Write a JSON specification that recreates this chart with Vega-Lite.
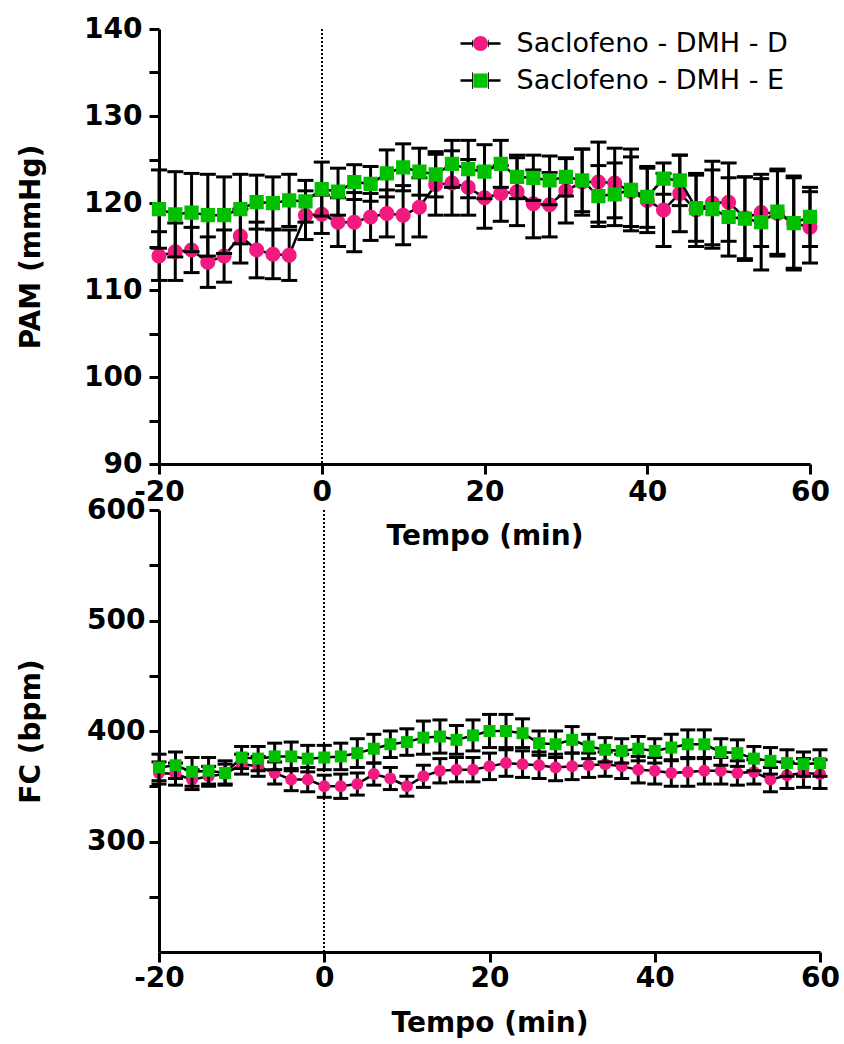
{
  "$schema": "https://vega.github.io/schema/vega-lite/v6.json",
  "padding": {"left": 17, "top": 15, "right": 5, "bottom": 5},
  "background": "white",
  "config": {
    "font": "DejaVu Sans",
    "view": {"stroke": null},
    "tick": {"opacity": 1},
    "rule": {"opacity": 1},
    "axis": {
      "grid": false,
      "domainColor": "black", "domainWidth": 3,
      "tickColor": "black", "tickWidth": 3, "tickSize": 10,
      "labelFont": "DejaVu Sans", "labelFontWeight": "bold", "labelFontSize": 28, "labelColor": "black",
      "titleFont": "DejaVu Sans", "titleFontWeight": "bold", "titleFontSize": 28, "titleColor": "black",
      "labelFlush": false, "labelOverlap": false
    }
  },
  "datasets": {
    "pam": [
      {"t":-20,"s":"D","v":113.9,"e":2.8},{"t":-18,"s":"D","v":114.4,"e":3.3},{"t":-16,"s":"D","v":114.6,"e":2.6},{"t":-14,"s":"D","v":113.2,"e":2.9},{"t":-12,"s":"D","v":113.9,"e":3.0},{"t":-10,"s":"D","v":116.2,"e":3.1},{"t":-8,"s":"D","v":114.6,"e":3.2},{"t":-6,"s":"D","v":114.1,"e":2.8},{"t":-4,"s":"D","v":114.0,"e":2.9},{"t":-2,"s":"D","v":118.6,"e":2.8},
      {"t":0,"s":"D","v":118.7,"e":2.2},{"t":2,"s":"D","v":117.8,"e":2.8},{"t":4,"s":"D","v":117.8,"e":3.4},{"t":6,"s":"D","v":118.4,"e":2.7},{"t":8,"s":"D","v":118.8,"e":2.7},{"t":10,"s":"D","v":118.6,"e":3.4},{"t":12,"s":"D","v":119.5,"e":3.4},{"t":14,"s":"D","v":122.1,"e":3.5},{"t":16,"s":"D","v":122.3,"e":3.7},{"t":18,"s":"D","v":121.8,"e":3.2},
      {"t":20,"s":"D","v":120.6,"e":3.5},{"t":22,"s":"D","v":121.1,"e":3.2},{"t":24,"s":"D","v":121.3,"e":3.9},{"t":26,"s":"D","v":119.9,"e":3.9},{"t":28,"s":"D","v":119.8,"e":3.7},{"t":30,"s":"D","v":121.4,"e":3.7},{"t":32,"s":"D","v":122.4,"e":3.8},{"t":34,"s":"D","v":122.4,"e":4.6},{"t":36,"s":"D","v":122.3,"e":4.0},{"t":38,"s":"D","v":121.3,"e":4.0},
      {"t":40,"s":"D","v":120.3,"e":3.7},{"t":42,"s":"D","v":119.2,"e":4.2},{"t":44,"s":"D","v":121.1,"e":4.4},{"t":46,"s":"D","v":119.2,"e":4.2},{"t":48,"s":"D","v":120.0,"e":4.8},{"t":50,"s":"D","v":120.1,"e":4.5},{"t":52,"s":"D","v":118.3,"e":4.7},{"t":54,"s":"D","v":118.9,"e":3.9},{"t":56,"s":"D","v":118.8,"e":4.9},{"t":58,"s":"D","v":117.7,"e":5.2},{"t":60,"s":"D","v":117.2,"e":4.1},
      {"t":-20,"s":"E","v":119.3,"e":4.5},{"t":-18,"s":"E","v":118.7,"e":4.9},{"t":-16,"s":"E","v":118.9,"e":4.5},{"t":-14,"s":"E","v":118.6,"e":4.7},{"t":-12,"s":"E","v":118.6,"e":4.4},{"t":-10,"s":"E","v":119.3,"e":4.0},{"t":-8,"s":"E","v":120.1,"e":3.1},{"t":-6,"s":"E","v":120.0,"e":3.0},{"t":-4,"s":"E","v":120.3,"e":3.0},{"t":-2,"s":"E","v":120.2,"e":2.4},
      {"t":0,"s":"E","v":121.6,"e":3.1},{"t":2,"s":"E","v":121.3,"e":2.7},{"t":4,"s":"E","v":122.4,"e":2.0},{"t":6,"s":"E","v":122.2,"e":2.0},{"t":8,"s":"E","v":123.4,"e":2.7},{"t":10,"s":"E","v":124.1,"e":2.7},{"t":12,"s":"E","v":123.6,"e":2.7},{"t":14,"s":"E","v":123.3,"e":2.6},{"t":16,"s":"E","v":124.5,"e":2.7},{"t":18,"s":"E","v":123.9,"e":3.3},
      {"t":20,"s":"E","v":123.6,"e":3.1},{"t":22,"s":"E","v":124.5,"e":2.7},{"t":24,"s":"E","v":123.0,"e":2.5},{"t":26,"s":"E","v":122.9,"e":2.6},{"t":28,"s":"E","v":122.6,"e":2.8},{"t":30,"s":"E","v":123.0,"e":2.2},{"t":32,"s":"E","v":122.6,"e":3.6},{"t":34,"s":"E","v":120.8,"e":3.5},{"t":36,"s":"E","v":121.0,"e":3.6},{"t":38,"s":"E","v":121.5,"e":4.7},
      {"t":40,"s":"E","v":120.7,"e":3.5},{"t":42,"s":"E","v":122.8,"e":1.8},{"t":44,"s":"E","v":122.6,"e":2.9},{"t":46,"s":"E","v":119.4,"e":3.8},{"t":48,"s":"E","v":119.3,"e":4.5},{"t":50,"s":"E","v":118.4,"e":4.5},{"t":52,"s":"E","v":118.2,"e":4.8},{"t":54,"s":"E","v":117.8,"e":5.5},{"t":56,"s":"E","v":119.0,"e":4.9},{"t":58,"s":"E","v":117.7,"e":5.4},{"t":60,"s":"E","v":118.4,"e":3.4}
    ],
    "fc": [
      {"t":-20,"s":"D","v":362,"e":10},{"t":-18,"s":"D","v":361,"e":10},{"t":-16,"s":"D","v":356,"e":9},{"t":-14,"s":"D","v":359,"e":9},{"t":-12,"s":"D","v":361,"e":9},{"t":-10,"s":"D","v":370,"e":9},{"t":-8,"s":"D","v":368,"e":9},{"t":-6,"s":"D","v":362,"e":10},{"t":-4,"s":"D","v":356,"e":10},{"t":-2,"s":"D","v":356,"e":11},
      {"t":0,"s":"D","v":350,"e":10},{"t":2,"s":"D","v":350,"e":11},{"t":4,"s":"D","v":352,"e":10},{"t":6,"s":"D","v":361,"e":10},{"t":8,"s":"D","v":357,"e":10},{"t":10,"s":"D","v":350,"e":9},{"t":12,"s":"D","v":359,"e":10},{"t":14,"s":"D","v":364,"e":11},{"t":16,"s":"D","v":365,"e":11},{"t":18,"s":"D","v":365,"e":11},
      {"t":20,"s":"D","v":368,"e":12},{"t":22,"s":"D","v":371,"e":12},{"t":24,"s":"D","v":370,"e":12},{"t":26,"s":"D","v":369,"e":12},{"t":28,"s":"D","v":367,"e":12},{"t":30,"s":"D","v":368,"e":12},{"t":32,"s":"D","v":369,"e":11},{"t":34,"s":"D","v":370,"e":11},{"t":36,"s":"D","v":368,"e":11},{"t":38,"s":"D","v":365,"e":12},
      {"t":40,"s":"D","v":364,"e":12},{"t":42,"s":"D","v":362,"e":12},{"t":44,"s":"D","v":363,"e":13},{"t":46,"s":"D","v":364,"e":12},{"t":48,"s":"D","v":364,"e":12},{"t":50,"s":"D","v":362,"e":11},{"t":52,"s":"D","v":363,"e":11},{"t":54,"s":"D","v":356,"e":11},{"t":56,"s":"D","v":360,"e":12},{"t":58,"s":"D","v":362,"e":13},{"t":60,"s":"D","v":361,"e":13},
      {"t":-20,"s":"E","v":367,"e":12},{"t":-18,"s":"E","v":369,"e":12},{"t":-16,"s":"E","v":363,"e":13},{"t":-14,"s":"E","v":364,"e":12},{"t":-12,"s":"E","v":362,"e":11},{"t":-10,"s":"E","v":376,"e":10},{"t":-8,"s":"E","v":375,"e":11},{"t":-6,"s":"E","v":377,"e":12},{"t":-4,"s":"E","v":377,"e":13},{"t":-2,"s":"E","v":375,"e":12},
      {"t":0,"s":"E","v":376,"e":11},{"t":2,"s":"E","v":377,"e":12},{"t":4,"s":"E","v":380,"e":13},{"t":6,"s":"E","v":384,"e":13},{"t":8,"s":"E","v":388,"e":12},{"t":10,"s":"E","v":390,"e":12},{"t":12,"s":"E","v":394,"e":15},{"t":14,"s":"E","v":395,"e":15},{"t":16,"s":"E","v":392,"e":13},{"t":18,"s":"E","v":396,"e":14},
      {"t":20,"s":"E","v":400,"e":15},{"t":22,"s":"E","v":400,"e":15},{"t":24,"s":"E","v":398,"e":13},{"t":26,"s":"E","v":389,"e":11},{"t":28,"s":"E","v":388,"e":12},{"t":30,"s":"E","v":392,"e":12},{"t":32,"s":"E","v":386,"e":11},{"t":34,"s":"E","v":383,"e":11},{"t":36,"s":"E","v":382,"e":11},{"t":38,"s":"E","v":384,"e":11},
      {"t":40,"s":"E","v":382,"e":11},{"t":42,"s":"E","v":385,"e":12},{"t":44,"s":"E","v":388,"e":13},{"t":46,"s":"E","v":388,"e":13},{"t":48,"s":"E","v":381,"e":12},{"t":50,"s":"E","v":380,"e":12},{"t":52,"s":"E","v":375,"e":11},{"t":54,"s":"E","v":373,"e":12},{"t":56,"s":"E","v":371,"e":12},{"t":58,"s":"E","v":370,"e":11},{"t":60,"s":"E","v":371,"e":12}
    ]
  },
  "spacing": 46,
  "bounds": "flush",
  "resolve": {"scale": {"color": "independent", "shape": "independent"}, "legend": {"color": "independent", "shape": "independent"}},
  "vconcat": [
    {
      "width": 651, "height": 435,
      "data": {"name": "pam"},
      "layer": [
        {"mark": {"type": "rule", "strokeDash": [1.5, 2.5], "strokeWidth": 1.3, "color": "black"},
         "encoding": {"x": {"datum": 0, "type": "quantitative"}}},
        {
          "encoding": {
            "x": {"field": "t", "type": "quantitative", "title": "Tempo (min)",
                  "scale": {"domain": [-20, 60], "nice": false, "zero": false},
                  "axis": {"values": [-20, 0, 20, 40, 60], "labelPadding": 4, "titlePadding": 16,
                           "labelExpr": "datum.value < 0 ? '-' + (-datum.value) : '' + datum.value"}},
            "y": {"field": "v", "type": "quantitative", "title": "PAM (mmHg)",
                  "scale": {"domain": [90, 140], "nice": false, "zero": false},
                  "axis": {"values": [90, 95, 100, 105, 110, 115, 120, 125, 130, 135, 140],
                           "labelExpr": "datum.value % 10 === 0 ? datum.label : ''",
                           "labelPadding": 7, "titlePadding": 38,
                           "encode": {"ticks": {"update": {"x2": {"signal": "datum.value % 10 === 0 ? -10 : -6"}}}}}}
          },
          "layer": [
            {"transform": [{"filter": "datum.s === 'D'"}],
             "mark": {"type": "errorbar", "color": "black", "opacity": 1, "thickness": 3, "rule": {"color": "black", "opacity": 1, "strokeWidth": 3}, "ticks": {"size": 16, "thickness": 3, "color": "black", "opacity": 1}},
             "encoding": {"yError": {"field": "e"}}},
            {"transform": [{"filter": "datum.s === 'D'"}],
             "mark": {"type": "line", "color": "black", "strokeWidth": 2.5}, "encoding": {}},
            {"transform": [{"filter": "datum.s === 'D'"}],
             "mark": {"type": "point", "filled": true, "size": 225, "opacity": 1, "strokeWidth": 0},
             "encoding": {
               "color": {"field": "s", "type": "nominal", "scale": {"domain": ["D", "E"], "range": ["#F21A80", "#00C000"]},
                         "legend": {"orient": "none", "legendX": 308, "legendY": 1, "title": null, "padding": 0,
                                    "labelExpr": "'Saclofeno - DMH - ' + datum.label", "labelFont": "DejaVu Sans", "labelFontSize": 27, "labelFontWeight": "normal", "labelColor": "black", "labelLimit": 500, "labelOffset": 22.5, "symbolSize": 225, "rowPadding": 9, "symbolOpacity": 1,
                                    "encode": {"symbols": {"update": {"strokeWidth": {"value": 2.5}, "stroke": {"value": {"gradient": "linear", "x1": 0, "y1": 0, "x2": 1, "y2": 0, "stops": [{"offset": 0, "color": "black"}, {"offset": 0.31, "color": "black"}, {"offset": 0.31, "color": "rgba(0,0,0,0)"}, {"offset": 0.69, "color": "rgba(0,0,0,0)"}, {"offset": 0.69, "color": "black"}, {"offset": 1, "color": "black"}]}}}}}}},
               "shape": {"field": "s", "type": "nominal", "scale": {"domain": ["D", "E"], "range": ["M-2.67,0H-1M1,0H2.67M1,0A1,1,0,1,1,-1,0A1,1,0,1,1,1,0Z", "M-2.67,0H-0.95M0.95,0H2.67M-0.95,-0.95H0.95V0.95H-0.95Z"]},
                         "legend": {"orient": "none", "legendX": 308, "legendY": 1, "title": null, "padding": 0,
                                    "labelExpr": "'Saclofeno - DMH - ' + datum.label", "labelFont": "DejaVu Sans", "labelFontSize": 27, "labelFontWeight": "normal", "labelColor": "black", "labelLimit": 500, "labelOffset": 22.5, "symbolSize": 225, "rowPadding": 9, "symbolOpacity": 1,
                                    "encode": {"symbols": {"update": {"strokeWidth": {"value": 2.5}, "stroke": {"value": {"gradient": "linear", "x1": 0, "y1": 0, "x2": 1, "y2": 0, "stops": [{"offset": 0, "color": "black"}, {"offset": 0.31, "color": "black"}, {"offset": 0.31, "color": "rgba(0,0,0,0)"}, {"offset": 0.69, "color": "rgba(0,0,0,0)"}, {"offset": 0.69, "color": "black"}, {"offset": 1, "color": "black"}]}}}}}}}
             }},
            {"transform": [{"filter": "datum.s === 'E'"}],
             "mark": {"type": "errorbar", "color": "black", "opacity": 1, "thickness": 3, "rule": {"color": "black", "opacity": 1, "strokeWidth": 3}, "ticks": {"size": 16, "thickness": 3, "color": "black", "opacity": 1}},
             "encoding": {"yError": {"field": "e"}}},
            {"transform": [{"filter": "datum.s === 'E'"}],
             "mark": {"type": "line", "color": "black", "strokeWidth": 2.5}, "encoding": {}},
            {"transform": [{"filter": "datum.s === 'E'"}],
             "mark": {"type": "point", "filled": true, "size": 225, "opacity": 1, "strokeWidth": 0},
             "encoding": {
               "color": {"field": "s", "type": "nominal", "scale": {"domain": ["D", "E"], "range": ["#F21A80", "#00C000"]},
                         "legend": {"orient": "none", "legendX": 308, "legendY": 1, "title": null, "padding": 0,
                                    "labelExpr": "'Saclofeno - DMH - ' + datum.label", "labelFont": "DejaVu Sans", "labelFontSize": 27, "labelFontWeight": "normal", "labelColor": "black", "labelLimit": 500, "labelOffset": 22.5, "symbolSize": 225, "rowPadding": 9, "symbolOpacity": 1,
                                    "encode": {"symbols": {"update": {"strokeWidth": {"value": 2.5}, "stroke": {"value": {"gradient": "linear", "x1": 0, "y1": 0, "x2": 1, "y2": 0, "stops": [{"offset": 0, "color": "black"}, {"offset": 0.31, "color": "black"}, {"offset": 0.31, "color": "rgba(0,0,0,0)"}, {"offset": 0.69, "color": "rgba(0,0,0,0)"}, {"offset": 0.69, "color": "black"}, {"offset": 1, "color": "black"}]}}}}}}},
               "shape": {"field": "s", "type": "nominal", "scale": {"domain": ["D", "E"], "range": ["M-2.67,0H-1M1,0H2.67M1,0A1,1,0,1,1,-1,0A1,1,0,1,1,1,0Z", "M-2.67,0H-0.95M0.95,0H2.67M-0.95,-0.95H0.95V0.95H-0.95Z"]},
                         "legend": {"orient": "none", "legendX": 308, "legendY": 1, "title": null, "padding": 0,
                                    "labelExpr": "'Saclofeno - DMH - ' + datum.label", "labelFont": "DejaVu Sans", "labelFontSize": 27, "labelFontWeight": "normal", "labelColor": "black", "labelLimit": 500, "labelOffset": 22.5, "symbolSize": 225, "rowPadding": 9, "symbolOpacity": 1,
                                    "encode": {"symbols": {"update": {"strokeWidth": {"value": 2.5}, "stroke": {"value": {"gradient": "linear", "x1": 0, "y1": 0, "x2": 1, "y2": 0, "stops": [{"offset": 0, "color": "black"}, {"offset": 0.31, "color": "black"}, {"offset": 0.31, "color": "rgba(0,0,0,0)"}, {"offset": 0.69, "color": "rgba(0,0,0,0)"}, {"offset": 0.69, "color": "black"}, {"offset": 1, "color": "black"}]}}}}}}}
             }}
          ]
        }
      ]
    },
    {
      "width": 661, "height": 442,
      "data": {"name": "fc"},
      "layer": [
        {"mark": {"type": "rule", "strokeDash": [1.5, 2.5], "strokeWidth": 1.3, "color": "black"},
         "encoding": {"x": {"datum": 0, "type": "quantitative"}}},
        {
          "encoding": {
            "x": {"field": "t", "type": "quantitative", "title": "Tempo (min)",
                  "scale": {"domain": [-20, 60], "nice": false, "zero": false},
                  "axis": {"values": [-20, 0, 20, 40, 60], "labelPadding": 2, "titlePadding": 17,
                           "labelExpr": "datum.value < 0 ? '-' + (-datum.value) : '' + datum.value"}},
            "y": {"field": "v", "type": "quantitative", "title": "FC (bpm)",
                  "scale": {"domain": [200, 600], "nice": false, "zero": false},
                  "axis": {"values": [250, 300, 350, 400, 450, 500, 550, 600],
                           "labelExpr": "datum.value % 100 === 0 ? datum.label : ''",
                           "labelPadding": 4, "titlePadding": 41,
                           "encode": {"ticks": {"update": {"x2": {"signal": "datum.value % 100 === 0 ? -10 : -6"}}}}}}
          },
          "layer": [
            {"transform": [{"filter": "datum.s === 'D'"}],
             "mark": {"type": "errorbar", "color": "black", "opacity": 1, "thickness": 3, "rule": {"color": "black", "opacity": 1, "strokeWidth": 3}, "ticks": {"size": 15, "thickness": 3, "color": "black", "opacity": 1}},
             "encoding": {"yError": {"field": "e"}}},
            {"transform": [{"filter": "datum.s === 'D'"}],
             "mark": {"type": "line", "color": "black", "strokeWidth": 2.5}, "encoding": {}},
            {"transform": [{"filter": "datum.s === 'D'"}],
             "mark": {"type": "point", "filled": true, "size": 144, "opacity": 1, "strokeWidth": 0},
             "encoding": {
               "color": {"field": "s", "type": "nominal", "scale": {"domain": ["D", "E"], "range": ["#F21A80", "#00C000"]}, "legend": null},
               "shape": {"field": "s", "type": "nominal", "scale": {"domain": ["D", "E"], "range": ["circle", "square"]}, "legend": null}
             }},
            {"transform": [{"filter": "datum.s === 'E'"}],
             "mark": {"type": "errorbar", "color": "black", "opacity": 1, "thickness": 3, "rule": {"color": "black", "opacity": 1, "strokeWidth": 3}, "ticks": {"size": 15, "thickness": 3, "color": "black", "opacity": 1}},
             "encoding": {"yError": {"field": "e"}}},
            {"transform": [{"filter": "datum.s === 'E'"}],
             "mark": {"type": "line", "color": "black", "strokeWidth": 2.5}, "encoding": {}},
            {"transform": [{"filter": "datum.s === 'E'"}],
             "mark": {"type": "point", "filled": true, "size": 144, "opacity": 1, "strokeWidth": 0},
             "encoding": {
               "color": {"field": "s", "type": "nominal", "scale": {"domain": ["D", "E"], "range": ["#F21A80", "#00C000"]}, "legend": null},
               "shape": {"field": "s", "type": "nominal", "scale": {"domain": ["D", "E"], "range": ["circle", "square"]}, "legend": null}
             }}
          ]
        }
      ]
    }
  ]
}
